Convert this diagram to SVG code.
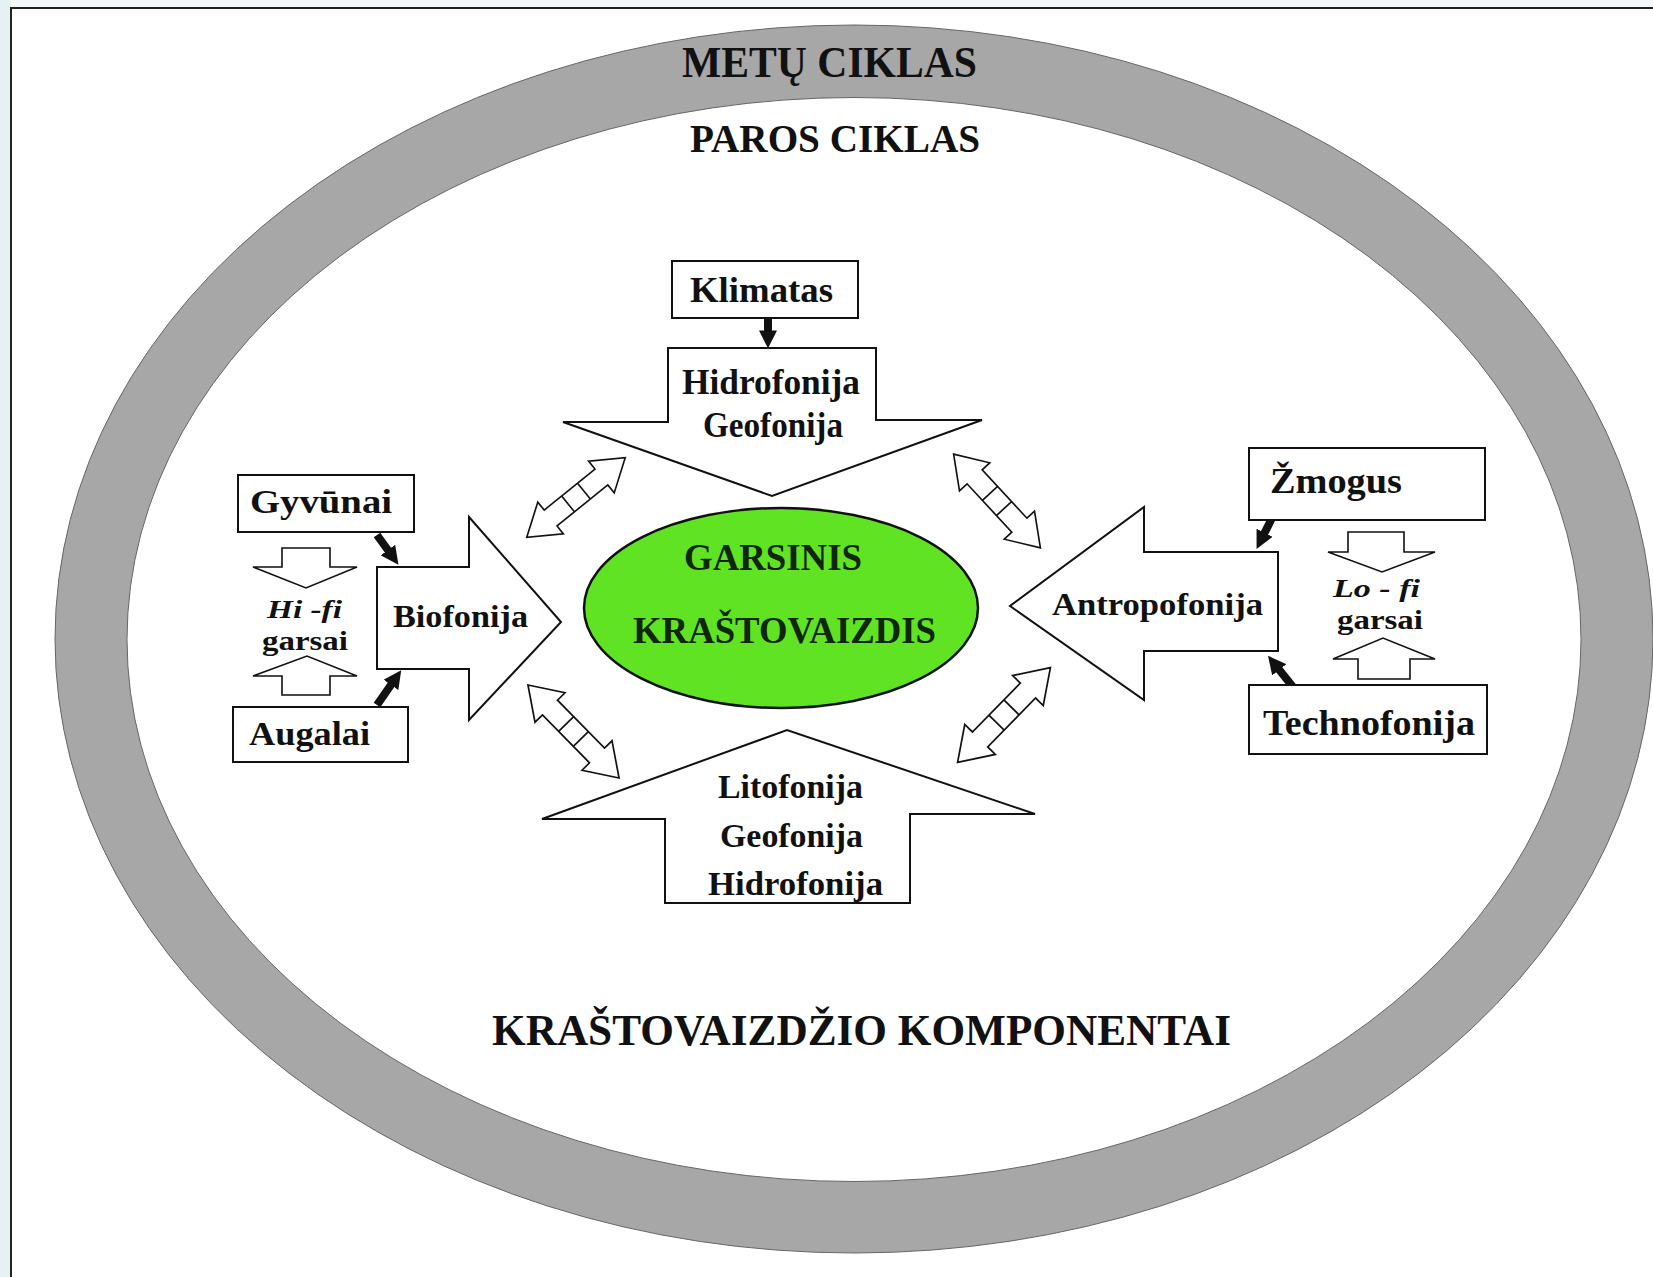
<svg xmlns="http://www.w3.org/2000/svg" xmlns:xlink="http://www.w3.org/1999/xlink" width="1653" height="1277" viewBox="0 0 1653 1277">
<style>
.t{font-family:"Liberation Serif","Times New Roman",serif;font-weight:bold;fill:#111;}
.it{font-style:italic;}
.box{fill:#fff;stroke:#111;stroke-width:2;}
.big{fill:#fff;stroke:#111;stroke-width:2;stroke-linejoin:miter;}
.hol{fill:#fff;stroke:#111;stroke-width:1.6;}
.blk{stroke:#111;stroke-width:8;fill:none;}
.dbl{fill:#fff;stroke:#111;stroke-width:1.6;}
</style>
<defs>
<marker id="ah" viewBox="0 0 10 10" refX="2" refY="5" markerWidth="18" markerHeight="18" markerUnits="userSpaceOnUse" orient="auto">
<path d="M0,0 L10,5 L0,10 Z" fill="#111"/>
</marker>
<g id="dblarrow">
<path class="dbl" d="M-62,0 L-32,-20 L-32,-10 L32,-10 L32,-20 L62,0 L32,20 L32,10 L-32,10 L-32,20 Z M-10,-10 V10 M10,-10 V10"/>
</g>
</defs>
<rect x="0" y="0" width="1653" height="1277" fill="#f5f8fa"/>
<rect x="0" y="0" width="11" height="1277" fill="#e6f1f4"/>
<rect x="11" y="8" width="1700" height="1300" fill="#fff" stroke="#222" stroke-width="2"/>

<g id="ring">
<ellipse cx="854" cy="639" rx="799" ry="614" fill="#a7a7a7" stroke="#666" stroke-width="1"/>
<ellipse cx="854" cy="639.5" rx="727" ry="542" fill="#fff" stroke="#666" stroke-width="1"/>
<text class="t" x="682" y="77" font-size="44" textLength="295" lengthAdjust="spacingAndGlyphs">METŲ CIKLAS</text>
<text class="t" x="690" y="152" font-size="41" textLength="290" lengthAdjust="spacingAndGlyphs">PAROS CIKLAS</text>
<text class="t" x="492" y="1045" font-size="44" textLength="739" lengthAdjust="spacingAndGlyphs">KRAŠTOVAIZDŽIO KOMPONENTAI</text>
</g>

<g id="connectors">
<line class="blk" x1="768" y1="318" x2="768" y2="334" marker-end="url(#ah)"/>
<line class="blk" x1="377" y1="535" x2="390" y2="553" marker-end="url(#ah)"/>
<line class="blk" x1="377" y1="705" x2="393" y2="682" marker-end="url(#ah)"/>
<line class="blk" x1="1272" y1="518" x2="1263" y2="536" marker-end="url(#ah)"/>
<line class="blk" x1="1293" y1="687" x2="1277" y2="667" marker-end="url(#ah)"/>
<path class="hol" d="M282,548 H330 V567 H357 L306,588 L253,567 H282 Z"/>
<path class="hol" d="M282,695 V676 H253 L307,656 L357,676 H330 V695 Z"/>
<path class="hol" d="M1348,532 H1404 V552 H1435 L1382,572 L1328,552 H1348 Z"/>
<path class="hol" d="M1358,679 V659 H1333 L1383,638 L1435,659 H1410 V679 Z"/>
<use xlink:href="#dblarrow" transform="translate(576,497.5) rotate(-38.9) scale(1.02)"/>
<use xlink:href="#dblarrow" transform="translate(997,501) rotate(47.2) scale(1.03)"/>
<use xlink:href="#dblarrow" transform="translate(573.5,731.5) rotate(45.6) scale(1.05)"/>
<use xlink:href="#dblarrow" transform="translate(1004,715) rotate(-45.6) scale(1.07)"/>
</g>

<g id="center">
<ellipse cx="781" cy="608" rx="197" ry="100" fill="#5fe322" stroke="#111" stroke-width="2.5"/>
<text class="t" x="684" y="570" font-size="37" textLength="178" lengthAdjust="spacingAndGlyphs" style="fill:#10250a">GARSINIS</text>
<text class="t" x="633" y="643" font-size="37" textLength="303" lengthAdjust="spacingAndGlyphs" style="fill:#10250a">KRAŠTOVAIZDIS</text>
</g>

<g id="klimatas">
<rect class="box" x="672" y="261" width="186" height="57"/>
<text class="t" x="690" y="302" font-size="35" textLength="143" lengthAdjust="spacingAndGlyphs">Klimatas</text>
</g>

<g id="top-arrow">
<path class="big" d="M668,348 H876 V420 H982 L772,496 L563,422 H668 Z"/>
<text class="t" x="682" y="394" font-size="35" textLength="178" lengthAdjust="spacingAndGlyphs">Hidrofonija</text>
<text class="t" x="703" y="437" font-size="35" textLength="140" lengthAdjust="spacingAndGlyphs">Geofonija</text>
</g>

<g id="bottom-arrow">
<path class="big" d="M665,903 V819 H542 L787,730 L1035,814 H910 V903 Z"/>
<text class="t" x="718" y="798" font-size="34" textLength="145" lengthAdjust="spacingAndGlyphs">Litofonija</text>
<text class="t" x="720" y="847" font-size="34" textLength="143" lengthAdjust="spacingAndGlyphs">Geofonija</text>
<text class="t" x="708" y="895" font-size="34" textLength="175" lengthAdjust="spacingAndGlyphs">Hidrofonija</text>
</g>

<g id="biofonija">
<path class="big" d="M377,567 H469 V517 L561,622 L469,720 V669 H377 Z"/>
<text class="t" x="393" y="627" font-size="31" textLength="135" lengthAdjust="spacingAndGlyphs">Biofonija</text>
</g>

<g id="gyvunai">
<rect class="box" x="238" y="475" width="176" height="57"/>
<text class="t" x="250" y="513" font-size="33" textLength="142" lengthAdjust="spacingAndGlyphs">Gyvūnai</text>
</g>

<g id="augalai">
<rect class="box" x="233" y="707" width="175" height="55"/>
<text class="t" x="249" y="745" font-size="33" textLength="121" lengthAdjust="spacingAndGlyphs">Augalai</text>
</g>

<g id="hifi">
<text class="t it" x="267" y="618" font-size="26" textLength="75" lengthAdjust="spacingAndGlyphs">Hi -fi</text>
<text class="t" x="262" y="650" font-size="27" textLength="86" lengthAdjust="spacingAndGlyphs">garsai</text>
</g>

<g id="antropofonija">
<path class="big" d="M1278,552 H1144 V507 L1010,606 L1144,700 V651 H1278 Z"/>
<text class="t" x="1052" y="615" font-size="31" textLength="211" lengthAdjust="spacingAndGlyphs">Antropofonija</text>
</g>

<g id="zmogus">
<rect class="box" x="1249" y="448" width="236" height="72"/>
<text class="t" x="1270" y="493" font-size="35" textLength="132" lengthAdjust="spacingAndGlyphs">Žmogus</text>
</g>

<g id="technofonija">
<rect class="box" x="1249" y="685" width="238" height="69"/>
<text class="t" x="1263" y="735" font-size="36" textLength="212" lengthAdjust="spacingAndGlyphs">Technofonija</text>
</g>

<g id="lofi">
<text class="t it" x="1333" y="597" font-size="26" textLength="87" lengthAdjust="spacingAndGlyphs">Lo - fi</text>
<text class="t" x="1337" y="629" font-size="27" textLength="86" lengthAdjust="spacingAndGlyphs">garsai</text>
</g>
</svg>
